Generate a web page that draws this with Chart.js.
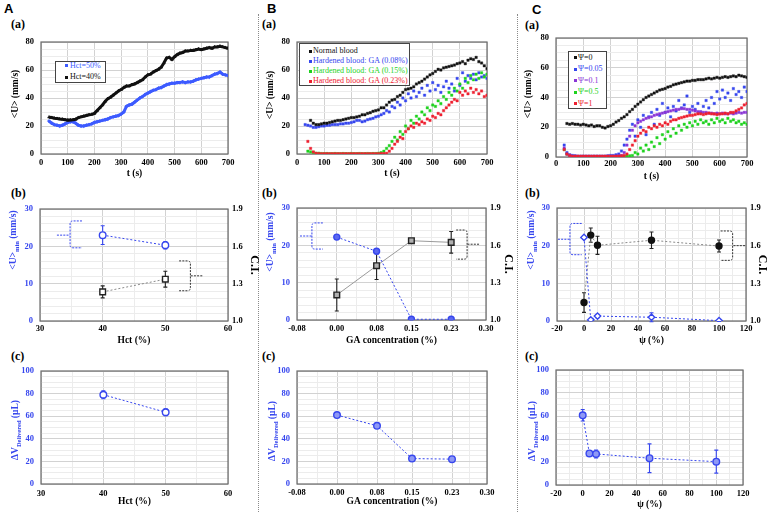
<!DOCTYPE html>
<html>
<head>
<meta charset="utf-8">
<title>Blood flow panels</title>
<script src="https://cdn.jsdelivr.net/npm/chart.js@4.4.1/dist/chart.umd.min.js"></script>
<style>
html,body{margin:0;padding:0;background:#fff;}
body{width:774px;height:512px;position:relative;overflow:hidden;font-family:'Liberation Serif','Times New Roman',serif;}
.cv{position:absolute;}
.pl{position:absolute;font:bold 13px 'Liberation Sans',Arial,sans-serif;line-height:13px;}
.sl{position:absolute;font:bold 12px 'Liberation Serif',serif;line-height:12px;}
.sep{position:absolute;top:14px;height:498px;width:0;border-left:1px dotted #8a8a8a;}
.lg{position:absolute;border:1px solid #444;background:#fff;box-sizing:border-box;}
.lr{position:absolute;white-space:nowrap;font:8px 'Liberation Serif',serif;line-height:10px;height:10px;}
.mk{position:absolute;width:3px;height:3px;}
</style>
</head>
<body>
<div class="pl" style="left:4px;top:2px">A</div>
<div class="pl" style="left:267px;top:2px">B</div>
<div class="pl" style="left:532px;top:3px">C</div>
<div class="sl" style="left:11px;top:18px">(a)</div>
<div class="sl" style="left:262px;top:18px">(a)</div>
<div class="sl" style="left:525px;top:19px">(a)</div>
<div class="sl" style="left:11px;top:187px">(b)</div>
<div class="sl" style="left:262px;top:187px">(b)</div>
<div class="sl" style="left:525px;top:187px">(b)</div>
<div class="sl" style="left:11px;top:350px">(c)</div>
<div class="sl" style="left:262px;top:350px">(c)</div>
<div class="sl" style="left:525px;top:350px">(c)</div>
<div class="sep" style="left:258px"></div>
<div class="sep" style="left:517px"></div>
<script>
// ---------------- DATA ----------------
// Panel A(a): time (s) and <U> (mm/s)
const T_A = [30,40,50,60,70,80,90,100,110,120,130,140,150,160,170,180,190,200,210,220,230,240,250,260,270,280,290,300,310,320,330,340,350,360,370,380,390,400,410,420,430,440,450,460,470,480,490,500,510,520,530,540,550,560,570,580,590,600,610,620,630,640,650,660,670,680,690,700];
const HCT50_U = [23.5,22,21,20.5,20,20.5,21.5,22.5,23,23,
  22,20.5,20,20,20.5,21,21.5,22.5,23,23.5,
  24,24.5,25,26,26.5,27,27.5,28.5,30,34,
  35,35.5,37,38.5,40,41,42.5,43.5,44.5,45.5,
  46,47,47.5,48.5,49.5,50,50.5,50.5,51,51,
  51.5,51,51.5,51.5,52,53,53.5,54,54.5,55,
  55,56,57,57.5,58.5,57,56.5,56];
const HCT40_U = [26.3,26,25.6,25.3,25,24.8,24.5,24.2,24.3,24.5,
  24.8,26,26.5,27,27.5,28,28.3,29,31,33,
  35,37.5,39.5,40.5,42,43.5,45,46,47.5,48.5,
  48.5,49.5,50,51,52,53,55,56.5,57,58.5,
  59.5,60.5,62,65,68.5,69,67.5,69.5,71,72,
  72.5,73.5,73.5,74,74,74.5,75,74.5,75,75.5,
  76,75.5,76.5,76.5,77,76.5,76,75.5];
const A_LABELS = ['Hct=50%','Hct=40%'];

// Panel B(a)
const T_B = [30,40,50,60,70,80,90,100,110,120,130,140,150,160,170,180,190,200,210,220,230,240,250,260,270,280,290,300,310,320,330,340,350,360,370,380,390,400,410,420,430,440,450,460,470,480,490,500,510,520,530,540,550,560,570,580,590,600,610,620,630,640,650,660,670,680,690,700];
const NORMAL_U = [null,null,24,22,21,21,21.5,22,22,22.5,
  23,23.5,24,24,24.5,25,25.5,26,26,26.5,
  27,28,28,29,29.5,30.5,31,31.5,33,33,
  35,37,38.5,39,41,42,44,46,46.5,47,
  48,50,51,52,53.5,55,56.5,57.5,59,60.5,
  60,61.5,62,62.5,63,63.5,64.5,65,66,64.5,
  67,68,67.5,69,66,65,63,61];
const GA008_U = [21,20.5,20,19,19,19.5,20,20,20.5,20.5,
  21,21,21,21.5,21.5,22,22,22.5,23,24,
  24,23,23.5,24.5,25,25.5,26.5,27,28,29,
  31,30,34,33,37,35,40,38,43,40,
  45,41,44,47,42,49,45,51,46,49,
  44,48,52,47,50,45,54,49,58,52,
  56,54,57,53,58,55,56,54];
const GA015_U = [null,2,1.5,1,0.5,0.5,0.3,0.2,0.3,0.2,
  0.2,0.3,0.2,0.2,0.3,0.2,0.2,0.3,0.2,0.2,
  0.3,0.2,0.2,0.3,0.2,0.3,0.3,0.5,1,2,
  4,6,9,12,10,16,14,20,18,24,
  22,27,25,30,28,33,31,35,34,38,
  36,41,39,44,42,47,45,50,47,54,
  51,56,53,57,54,58,55,57];
const GA023_U = [null,9,4,1.5,0.5,0.3,0.2,0.2,0.2,0.2,
  0.2,0.2,0.2,0.2,0.2,0.2,0.2,0.2,0.2,0.2,
  0.2,0.2,0.2,0.2,0.2,0.2,0.2,0.2,0.3,0.3,
  0.5,2,4,7,9,12,11,16,18,20,
  19,22,21,23,22,25,24,27,26,29,
  28,31,33,35,37,39,38,44,42,45,
  43,47,44,46,43,45,41,42];
const B_LABELS = ['Normal blood','Hardened blood: GA (0.08%)','Hardened blood: GA (0.15%)','Hardened blood: GA (0.23%)'];

// Panel C(a)
const T_C = [30,40,50,60,70,80,90,100,110,120,130,140,150,160,170,180,190,200,210,220,230,240,250,260,270,280,290,300,310,320,330,340,350,360,370,380,390,400,410,420,430,440,450,460,470,480,490,500,510,520,530,540,550,560,570,580,590,600,610,620,630,640,650,660,670,680,690,700];
const PSI0_U = [null,22.5,22,22.5,22,22,21.5,22,21.5,21,
  21.5,20.5,21,21,20,19.5,20.5,21,22,23.5,
  24.5,26,27,28.5,30.5,32,34,35.5,37,38.5,
  40,41,42,43,44,45,45.5,46,47,47.5,
  48.5,49,49.5,50,50.5,51,51,51.5,51.5,52,
  52,52,52.5,53,52.5,53,53.5,53,53.5,54,
  53.5,54,54.5,54,55,54.5,54,53.5];
const PSI005_U = [8,3,1.5,1,0.8,0.5,0.5,0.5,0.5,0.5,
  0.5,0.5,0.5,0.5,0.5,0.5,0.8,1,1,1.5,
  2,4,8,12,18,22,14,25,20,28,
  15,27,30,22,32,28,36,30,33,27,
  34,31,38,33,35,41,30,34,32,36,
  30,34,38,33,40,36,44,39,45,40,
  43,38,46,42,44,40,47,44];
const PSI01_U = [6,2,1,0.5,0.5,0.5,0.5,0.5,0.5,0.5,
  0.5,0.5,0.5,0.5,0.5,0.5,0.5,0.5,0.5,0.5,
  0.8,1,3,8,14,18,21,23,24,25,
  26,26.5,27,28,28.5,29,29.5,30,30.5,31,
  31.5,32,32,32.5,32.5,32,32,31.5,31,30.5,
  30.5,30,30,29.5,29.5,29,29.5,29,29.5,29,
  29,29.5,29,29.5,30,29.5,30,30];
const PSI05_U = [5,2,1,0.5,0.3,0.3,0.3,0.3,0.3,0.3,
  0.3,0.3,0.3,0.3,0.3,0.3,0.3,0.3,0.3,0.3,
  0.3,0.3,0.5,0.5,0.8,1,3,2,6,4,
  8,5,10,7,13,9,15,12,17,14,
  19,16,21,18,22,20,23,21,24,22,
  25,23,24,22,25,23,26,24,25,23,
  26,24,25,23,24,22,23,22];
const PSI1_U = [5,2,1,0.5,0.5,0.5,0.5,0.5,0.5,0.5,
  0.5,0.5,0.5,0.5,0.5,0.5,0.5,0.5,0.5,0.5,
  0.5,0.8,1,2,5,8,11,14,16,18,
  17,20,19,21,20,22,21,23,22,24,
  25,25,26,26.5,27,27.5,28,28,28.5,29,
  29,28.5,29,29.5,29,29,28.5,29,29,29.5,
  29,30,30,31,32,33,35,36];
const C_LABELS = ['\u03A8=0','\u03A8=0.05','\u03A8=0.1','\u03A8=0.5','\u03A8=1'];

// Panels (b) and (c)
const HCT_X = [40, 50];
const HCT_UMIN = [23, 20.3];      const HCT_UMIN_ERR = [2.5, 1.0];
const HCT_CI = [1.234, 1.336];    const HCT_CI_ERR = [0.048, 0.064];
const HCT_DV = [79, 63.5];        const HCT_DV_ERR = [3.5, 3];

const GA_X = [0, 0.08, 0.15, 0.23];
const GA_UMIN = [22.2, 18.4, 0.2, 0.2];        const GA_UMIN_ERR = [0.4, 0.4, 0.2, 0.2];
const GA_CI = [1.201, 1.436, 1.637, 1.624];    const GA_CI_ERR = [0.129, 0.11, 0.012, 0.087];
const GA_DV = [61, 51.5, 22.5, 22];            const GA_DV_ERR = [2, 1, 1, 0.8];

const PSI_X = [0, 5, 10, 50, 100];
const PSI_UMIN = [22.2, 0.3, 1.3, 1.0, 0.1];           const PSI_UMIN_ERR = [0.4, 0.3, 0.4, 1.2, 0.2];
const PSI_CI = [1.147, 1.684, 1.603, 1.643, 1.597];    const PSI_CI_ERR = [0.078, 0.057, 0.072, 0.066, 0.048];
const PSI_DV = [60.6, 27.5, 27, 23.3, 20.3];           const PSI_DV_ERR = [5, 2, 3.5, 12.5, 10];

// Tick values and labels
const T_TICKS = [0,100,200,300,400,500,600,700];
const U_TICKS = [0,20,40,60,80];
const HCT_TICKS = [30,40,50,60];
const GA_TICKS = [-0.08,0,0.08,0.15,0.23,0.30];
const GA_TICK_LABELS = ['-0.08','0.00','0.08','0.15','0.23','0.30'];
const PSI_TICKS = [-20,0,20,40,60,80,100,120];
const UMIN_TICKS = [0,10,20,30];
const CI_TICKS = [1.0,1.3,1.6,1.9];
const CI_TICK_LABELS = ['1.0','1.3','1.6','1.9'];
const DV_TICKS = [0,20,40,60,80,100];

// ---------------- STYLE ----------------
const SERIF = "'Liberation Serif','Times New Roman',serif";
const BLUE = '#3646ee';
const BLUE_A = '#3d5bff';
const GREEN = '#1ed21e';
const RED = '#ee2030';
const PURPLE = '#8a36d6';
const BLACK = '#111111';

Chart.defaults.font.family = SERIF;

// ---------------- PLUGINS ----------------
const framePlugin = {
  id:'frame',
  beforeDatasetsDraw(chart){
    const a = chart.chartArea, ctx = chart.ctx;
    ctx.save(); ctx.strokeStyle = '#6a6a6a'; ctx.lineWidth = 1.2; ctx.setLineDash([]);
    ctx.strokeRect(a.left, a.top, a.right - a.left, a.bottom - a.top);
    ctx.restore();
  }
};
const errPlugin = {
  id:'errbars',
  beforeDatasetsDraw(chart){
    const ctx = chart.ctx;
    chart.data.datasets.forEach(ds => {
      if (!ds.err) return;
      const xs = chart.scales.x, ys = chart.scales[ds.yAxisID || 'y'];
      ctx.save(); ctx.strokeStyle = ds.errColor; ctx.lineWidth = 1.1; ctx.setLineDash([]);
      ds.data.forEach((p, j) => {
        const e = ds.err[j]; if (!e) return;
        const x = xs.getPixelForValue(p.x), y1 = ys.getPixelForValue(p.y + e), y2 = ys.getPixelForValue(p.y - e);
        ctx.beginPath();
        ctx.moveTo(x, y1); ctx.lineTo(x, y2);
        ctx.moveTo(x - 2, y1); ctx.lineTo(x + 2, y1);
        ctx.moveTo(x - 2, y2); ctx.lineTo(x + 2, y2);
        ctx.stroke();
      });
      ctx.restore();
    });
  }
};
const bracePlugin = {
  id:'braces',
  afterDatasetsDraw(chart, args, o){
    if (!o || !o.list) return;
    const ctx = chart.ctx, xs = chart.scales.x, ys = chart.scales.y;
    o.list.forEach(b => {
      const xl = xs.getPixelForValue(b.xl), xsp = xs.getPixelForValue(b.xs), xt = xs.getPixelForValue(b.xt);
      const ya = ys.getPixelForValue(b.y1), yb = ys.getPixelForValue(b.y2), ym = ys.getPixelForValue(b.ym);
      const top = Math.min(ya, yb), bot = Math.max(ya, yb);
      const d = Math.sign(xt - xsp) * 3;
      ctx.save(); ctx.strokeStyle = b.color; ctx.lineWidth = 1; ctx.setLineDash([2, 1.2]);
      ctx.beginPath();
      ctx.moveTo(xt, top); ctx.lineTo(xsp + d, top);
      ctx.quadraticCurveTo(xsp, top, xsp, top + 3);
      ctx.lineTo(xsp, bot - 3);
      ctx.quadraticCurveTo(xsp, bot, xsp + d, bot);
      ctx.lineTo(xt, bot);
      ctx.moveTo(xl, ym); ctx.lineTo(xsp, ym);
      ctx.stroke();
      ctx.restore();
    });
  }
};
const yTitlePlugin = {
  id:'ytitle',
  afterDraw(chart, args, o){
    if (!o || !o.parts) return;
    const ctx = chart.ctx;
    const mainF = "bold 9.5px " + SERIF, subF = "bold 6.5px " + SERIF;
    ctx.save();
    ctx.translate(o.cx, o.cy); ctx.rotate(-Math.PI / 2);
    ctx.fillStyle = o.color; ctx.textBaseline = 'alphabetic'; ctx.textAlign = 'left';
    let total = 0;
    o.parts.forEach(p => { ctx.font = p[1] ? subF : mainF; total += ctx.measureText(p[0]).width; });
    let x = -total / 2;
    o.parts.forEach(p => {
      ctx.font = p[1] ? subF : mainF;
      ctx.fillText(p[0], x, p[1] ? 5.5 : 3.3);
      x += ctx.measureText(p[0]).width;
    });
    ctx.restore();
  }
};
Chart.register(framePlugin, errPlugin, bracePlugin, yTitlePlugin);

// ---------------- HELPERS ----------------
function mkTicks(major, labels, sub){
  const out = [];
  for (let i = 0; i < major.length; i++){
    out.push({value: major[i], mj: true, lbl: labels ? labels[i] : String(major[i])});
    if (i < major.length - 1) for (let k = 1; k < sub; k++)
      out.push({value: major[i] + (major[i+1] - major[i]) * k / sub, mj: false, lbl: ''});
  }
  return out;
}
function axisCfg(o){
  const tk = o.ticks;
  const cfg = {
    type:'linear', position:o.pos, min:o.min, max:o.max,
    afterBuildTicks: s => { s.ticks = tk.map(t => Object.assign({}, t)); },
    afterFit: s => {
      if (s.isHorizontal()) { s.height = o.size; s.paddingLeft = 0; s.paddingRight = 0; }
      else { s.width = o.size; s.paddingTop = 0; s.paddingBottom = 0; }
    },
    ticks:{autoSkip:false, maxRotation:0, minRotation:0, padding:o.tickPad, color:o.color || '#000',
      font:{family:SERIF, size:8.5, weight:'bold'},
      callback:(v, i, arr) => (arr[i] && arr[i].lbl !== undefined) ? arr[i].lbl : ''},
    grid:{display:o.grid !== false, drawTicks:false, lineWidth:1,
      color: c => (c.tick && c.tick.mj) ? '#d2d2d2' : '#ececec'},
    border:{display:false},
    title: o.title ? {display:true, text:o.title, color:'#000',
      font:{family:SERIF, size:o.titleSize || 9.5, weight:'bold'},
      padding:{top:o.titlePad || 0, bottom:o.titlePad || 0}} : {display:false}
  };
  return cfg;
}
function mk(box, area, c){
  const [cx, cy, cw, ch] = box, [L, T, R, B] = area;
  const div = document.createElement('div');
  div.className = 'cv';
  div.style.left = cx + 'px'; div.style.top = cy + 'px'; div.style.width = cw + 'px'; div.style.height = ch + 'px';
  const cv = document.createElement('canvas');
  cv.width = cw; cv.height = ch; cv.style.width = cw + 'px'; cv.style.height = ch + 'px';
  div.appendChild(cv); document.body.appendChild(div);
  const scales = {
    x: axisCfg(Object.assign({}, c.x, {pos:'bottom', size: cy + ch - B})),
    y: axisCfg(Object.assign({}, c.y, {pos:'left', size: L - cx}))
  };
  let padR = cx + cw - R;
  if (c.y2){ scales.y2 = axisCfg(Object.assign({}, c.y2, {pos:'right', size: cx + cw - R, grid:false})); padR = 0; }
  return new Chart(cv, {
    type:'scatter',
    data:{datasets:c.datasets},
    options:{
      responsive:false, animation:false, events:[],
      layout:{padding:{left:0, top:T - cy, right:padR, bottom:0}},
      scales,
      plugins:{
        legend:{display:false}, tooltip:{enabled:false},
        ytitle:{cx:c.yTitle.cx, cy:c.yTitle.cy - cy, parts:c.yTitle.parts, color:c.yTitle.color},
        braces:{list:c.braces || []}
      }
    }
  });
}
function pts(xs, ys){
  const out = [];
  xs.forEach((x, i) => { if (ys[i] !== null && ys[i] !== undefined) out.push({x, y: ys[i]}); });
  return out;
}
function dots(label, xs, ys, color, style){
  return {label, data:pts(xs, ys), showLine:false, pointStyle:style || 'rect', pointRadius:1.7,
    pointBorderWidth:0.4, pointBackgroundColor:color, pointBorderColor:color};
}
function thick(label, xs, ys, color, style){
  return {label, data:pts(xs, ys), showLine:true, borderColor:color, borderWidth:3, tension:0,
    pointStyle:style, pointRadius:1.7, pointBorderWidth:0.5, pointBackgroundColor:color, pointBorderColor:color};
}
function marks(label, xs, ys, err, o){
  return Object.assign({label, data:pts(xs, ys), err, showLine:true, borderWidth:1, borderDash:[2,2], tension:0,
    pointBorderWidth:1.4}, o);
}
function legend(box, rows){
  const d = document.createElement('div');
  d.className = 'lg';
  d.style.left = box[0] + 'px'; d.style.top = box[1] + 'px'; d.style.width = box[2] + 'px'; d.style.height = box[3] + 'px';
  document.body.appendChild(d);
  rows.forEach(r => {
    const m = document.createElement('div');
    m.className = 'mk'; m.style.background = r.color;
    m.style.left = (r.mx - box[0] - 2) + 'px'; m.style.top = (r.y - box[1] - 2.5) + 'px';
    d.appendChild(m);
    const t = document.createElement('div');
    t.className = 'lr'; t.textContent = r.text; t.style.color = r.tcolor;
    t.style.left = (r.tx - box[0] - 1) + 'px'; t.style.top = (r.y - box[1] - 6) + 'px';
    d.appendChild(t);
  });
}

// ---------------- CHARTS ----------------
const blueTitle = (cx, cy, parts) => ({cx, cy, parts, color:BLUE});
const UMIN_PARTS = [['<U>',0],['min',1],[' (mm/s)',0]];
const DV_PARTS = [['\u0394V',0],['Delivered',1],[' (\u03BCL)',0]];

// Row (a)
mk([0,30,258,150],[41,42,228,154],{
  x:{min:0,max:700,ticks:mkTicks(T_TICKS,null,1),tickPad:4,title:'t (s)',titlePad:1},
  y:{min:0,max:80,ticks:mkTicks(U_TICKS,null,4),tickPad:7},
  datasets:[thick(A_LABELS[1],T_A,HCT40_U,BLACK,'triangle'), thick(A_LABELS[0],T_A,HCT50_U,BLUE_A,'rectRot')],
  yTitle:{cx:15, cy:94, parts:[['<U> (mm/s)',0]], color:'#000'}
});
mk([258,30,258,150],[297,42,487,154],{
  x:{min:0,max:700,ticks:mkTicks(T_TICKS,null,1),tickPad:4,title:'t (s)',titlePad:1},
  y:{min:0,max:80,ticks:mkTicks(U_TICKS,null,4),tickPad:7},
  datasets:[dots(B_LABELS[0],T_B,NORMAL_U,BLACK), dots(B_LABELS[3],T_B,GA023_U,RED),
            dots(B_LABELS[2],T_B,GA015_U,GREEN), dots(B_LABELS[1],T_B,GA008_U,BLUE)],
  yTitle:{cx:12, cy:95, parts:[['<U> (mm/s)',0]], color:'#000'}
});
mk([516,30,258,155],[556,38,747,157],{
  x:{min:0,max:700,ticks:mkTicks(T_TICKS,null,1),tickPad:2,title:'t (s)',titlePad:2.5},
  y:{min:0,max:80,ticks:mkTicks(U_TICKS,null,4),tickPad:7},
  datasets:[dots(C_LABELS[0],T_C,PSI0_U,BLACK), dots(C_LABELS[4],T_C,PSI1_U,RED),
            dots(C_LABELS[2],T_C,PSI01_U,PURPLE), dots(C_LABELS[1],T_C,PSI005_U,BLUE),
            dots(C_LABELS[3],T_C,PSI05_U,GREEN)],
  yTitle:{cx:12, cy:94, parts:[['<U> (mm/s)',0]], color:'#000'}
});

// Row (b)
mk([0,198,262,152],[40,209,228,321],{
  x:{min:30,max:60,ticks:mkTicks(HCT_TICKS,null,2),tickPad:3,title:'Hct (%)',titlePad:3.3},
  y:{min:0,max:30,ticks:mkTicks(UMIN_TICKS,null,5),tickPad:7,color:BLUE},
  y2:{min:1.0,max:1.9,ticks:mkTicks(CI_TICKS,CI_TICK_LABELS,1),tickPad:4,title:'C.I.',titleSize:12,titlePad:0.8},
  datasets:[
    marks('Umin',HCT_X,HCT_UMIN,HCT_UMIN_ERR,{yAxisID:'y',borderColor:BLUE,pointStyle:'circle',pointRadius:3.3,
      pointBackgroundColor:'#fff',pointBorderColor:BLUE,errColor:BLUE}),
    marks('CI',HCT_X,HCT_CI,HCT_CI_ERR,{yAxisID:'y2',borderColor:'#8a8a8a',pointStyle:'rect',pointRadius:4,
      pointBackgroundColor:'#fff',pointBorderColor:'#222',errColor:'#222'})
  ],
  yTitle:blueTitle(13,240,UMIN_PARTS),
  braces:[{xl:32.7,xs:34.8,xt:36.7,y1:26.8,y2:19.6,ym:23,color:BLUE},
          {xl:55.9,xs:54.0,xt:52.2,y1:16.1,y2:8.1,ym:12.1,color:'#333'}]
});
mk([258,198,258,152],[297,208,486,320],{
  x:{min:-0.08,max:0.30,ticks:mkTicks(GA_TICKS,GA_TICK_LABELS,2),tickPad:4,title:'GA concentration (%)',titlePad:3.3},
  y:{min:0,max:30,ticks:mkTicks(UMIN_TICKS,null,5),tickPad:7,color:BLUE},
  y2:{min:1.0,max:1.9,ticks:mkTicks(CI_TICKS,CI_TICK_LABELS,1),tickPad:4,title:'C.I.',titleSize:12,titlePad:0.8},
  datasets:[
    marks('Umin',GA_X,GA_UMIN,GA_UMIN_ERR,{yAxisID:'y',borderColor:BLUE,pointStyle:'circle',pointRadius:3,
      pointBackgroundColor:'#5b68f0',pointBorderColor:BLUE,errColor:BLUE}),
    marks('CI',GA_X,GA_CI,GA_CI_ERR,{yAxisID:'y2',borderColor:'#9a9a9a',borderDash:[],pointStyle:'rect',pointRadius:4,
      pointBackgroundColor:'#b0b0b0',pointBorderColor:'#222',errColor:'#222'})
  ],
  yTitle:blueTitle(12,242,UMIN_PARTS),
  braces:[{xl:-0.074,xs:-0.050,xt:-0.028,y1:26,y2:19,ym:22.5,color:BLUE},
          {xl:0.286,xs:0.262,xt:0.240,y1:24.1,y2:16.3,ym:20.3,color:'#333'}]
});
mk([516,198,258,152],[557,208,746,321],{
  x:{min:-20,max:120,ticks:mkTicks(PSI_TICKS,null,2),tickPad:3,title:'\u03C8 (%)',titlePad:3.3},
  y:{min:0,max:30,ticks:mkTicks(UMIN_TICKS,null,5),tickPad:7,color:BLUE},
  y2:{min:1.0,max:1.9,ticks:mkTicks(CI_TICKS,CI_TICK_LABELS,1),tickPad:4,title:'C.I.',titleSize:12,titlePad:4.8},
  datasets:[
    marks('Umin',PSI_X,PSI_UMIN,PSI_UMIN_ERR,{yAxisID:'y',borderColor:BLUE,pointStyle:'rectRot',pointRadius:3.2,
      pointBackgroundColor:'#fff',pointBorderColor:BLUE,errColor:BLUE}),
    marks('CI',PSI_X,PSI_CI,PSI_CI_ERR,{yAxisID:'y2',borderColor:'#8a8a8a',pointStyle:'circle',pointRadius:3,
      pointBackgroundColor:'#111',pointBorderColor:'#111',errColor:'#222'})
  ],
  yTitle:blueTitle(15,240,UMIN_PARTS),
  braces:[{xl:-19.3,xs:-10.4,xt:-1.7,y1:25.9,y2:17.6,ym:21.7,color:BLUE},
          {xl:119.3,xs:110.1,xt:101.2,y1:23.9,y2:16.1,ym:20,color:'#333'}]
});

// Row (c)
mk([0,362,258,150],[41,371,228,484],{
  x:{min:30,max:60,ticks:mkTicks(HCT_TICKS,null,2),tickPad:4.5,title:'Hct (%)',titlePad:4.3},
  y:{min:0,max:100,ticks:mkTicks(DV_TICKS,null,4),tickPad:7,color:BLUE},
  datasets:[marks('DV',HCT_X,HCT_DV,HCT_DV_ERR,{borderColor:BLUE,pointStyle:'circle',pointRadius:3.3,
    pointBackgroundColor:'#fff',pointBorderColor:BLUE,errColor:BLUE})],
  yTitle:blueTitle(15,430,DV_PARTS)
});
mk([258,362,258,150],[297,371,487,484],{
  x:{min:-0.08,max:0.30,ticks:mkTicks(GA_TICKS,GA_TICK_LABELS,2),tickPad:3.5,title:'GA concentration (%)',titlePad:4.3},
  y:{min:0,max:100,ticks:mkTicks(DV_TICKS,null,4),tickPad:7,color:BLUE},
  datasets:[marks('DV',GA_X,GA_DV,GA_DV_ERR,{borderColor:BLUE,pointStyle:'circle',pointRadius:3.3,
    pointBackgroundColor:'#8f99f5',pointBorderColor:BLUE,errColor:BLUE})],
  yTitle:blueTitle(14,431,DV_PARTS)
});
mk([516,362,258,150],[556,370,743,485],{
  x:{min:-20,max:120,ticks:mkTicks(PSI_TICKS,null,2),tickPad:4,title:'\u03C8 (%)',titlePad:1.3},
  y:{min:0,max:100,ticks:mkTicks(DV_TICKS,null,4),tickPad:7,color:BLUE},
  datasets:[marks('DV',PSI_X,PSI_DV,PSI_DV_ERR,{borderColor:BLUE,pointStyle:'circle',pointRadius:3.3,
    pointBackgroundColor:'#8f99f5',pointBorderColor:BLUE,errColor:BLUE})],
  yTitle:blueTitle(16,431,DV_PARTS)
});

// ---------------- LEGENDS ----------------
legend([55,61,51,22],[
  {text:A_LABELS[0], color:BLUE_A, tcolor:BLUE_A, mx:66, tx:70, y:65.5},
  {text:A_LABELS[1], color:BLACK, tcolor:BLACK, mx:66, tx:70, y:77}
]);
legend([299,43,111,43],[
  {text:B_LABELS[0], color:BLACK, tcolor:BLACK, mx:310, tx:313, y:51},
  {text:B_LABELS[1], color:BLUE, tcolor:BLUE, mx:310, tx:313, y:61},
  {text:B_LABELS[2], color:GREEN, tcolor:GREEN, mx:310, tx:313, y:71},
  {text:B_LABELS[3], color:RED, tcolor:RED, mx:310, tx:313, y:81}
]);
legend([568,51,39,58],[
  {text:C_LABELS[0], color:BLACK, tcolor:BLACK, mx:575, tx:578, y:57.5},
  {text:C_LABELS[1], color:BLUE, tcolor:BLUE, mx:575, tx:578, y:69},
  {text:C_LABELS[2], color:PURPLE, tcolor:PURPLE, mx:575, tx:578, y:80.5},
  {text:C_LABELS[3], color:GREEN, tcolor:GREEN, mx:575, tx:578, y:92},
  {text:C_LABELS[4], color:RED, tcolor:RED, mx:575, tx:578, y:103.5}
]);
</script>
</body>
</html>
